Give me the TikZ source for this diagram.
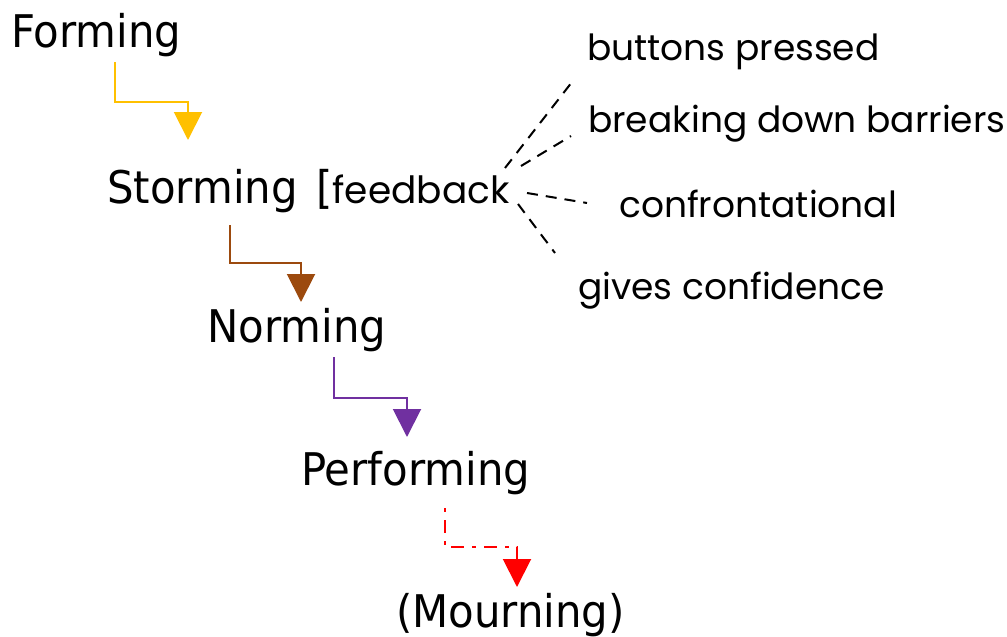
\documentclass[tikz,border=0pt]{standalone}
\usepackage{fontspec}
\setmainfont{DejaVu Sans}
\newfontfamily\stagefont[FakeStretch=0.93]{DejaVu Sans}
\newfontfamily\notefont{Poppins}
\usetikzlibrary{arrows.meta}
\definecolor{cyellow}{HTML}{FFC000}
\definecolor{cbrown}{HTML}{9C4A0E}
\definecolor{cpurple}{HTML}{7030A0}
\definecolor{cred}{HTML}{FF0000}
\begin{document}
\begin{tikzpicture}[x=1pt,y=-1pt,
  stage/.style={anchor=base west,inner sep=0pt,font=\stagefont\fontsize{45}{50}\selectfont},
  note/.style={anchor=base west,inner sep=0pt,font=\notefont\fontsize{36}{40}\selectfont},
  flow/.style={line width=2pt,-{Triangle[width=28pt,length=28pt]}},
  fbline/.style={line width=2pt,dash pattern=on 11pt off 8pt}]
\useasboundingbox (0,0) rectangle (1007,637);
\node[stage] (forming) at (11,47) {Forming};
\node[stage] (storming) at (107,203) {Storming};
\node[anchor=base west,inner sep=0pt] (feedback) at (316,203) {{\stagefont\fontsize{45}{50}\selectfont[}{\notefont\fontsize{37.5}{40}\selectfont feedback}};
\node[stage] (norming) at (207,342) {Norming};
\node[stage] (performing) at (301,485) {Performing};
\node[stage] (mourning) at (396,627) {(Mourning)};
\node[note] (buttons) at (587,60) {buttons pressed};
\node[note] (breaking) at (588,132) {breaking down barriers};
\node[note] (confront) at (619,217) {confrontational};
\node[note] (gives) at (578,299) {gives confidence};
% connector end points
\coordinate (f1) at (115,62);  \coordinate (f2) at (188,140);
\coordinate (s1) at (230,225); \coordinate (s2) at (301,302);
\coordinate (n1) at (334,357); \coordinate (n2) at (407,437);
\coordinate (p1) at (445,508); \coordinate (p2) at (517,587);
\draw[flow,cyellow] (f1) -- (115,102) -- (188,102) -- (f2);
\draw[flow,cbrown] (s1) -- (230,263) -- (301,263) -- (s2);
\draw[flow,cpurple] (n1) -- (334,398) -- (407,398) -- (n2);
\draw[flow,cred,dash pattern=on 4pt off 8pt on 13pt off 8pt] (p1) -- (445,547) -- (517,547) -- (p2);
% feedback lines
\coordinate (b1) at (505,168); \coordinate (b2) at (572,82);
\coordinate (r1) at (521,166); \coordinate (r2) at (571,136);
\coordinate (c1) at (527,193); \coordinate (c2) at (587,203);
\coordinate (g1) at (518,204); \coordinate (g2) at (555,253);
\draw[fbline] (b1) -- (b2);
\draw[fbline] (r1) -- (r2);
\draw[fbline] (c1) -- (c2);
\draw[fbline] (g1) -- (g2);
\end{tikzpicture}
\end{document}
